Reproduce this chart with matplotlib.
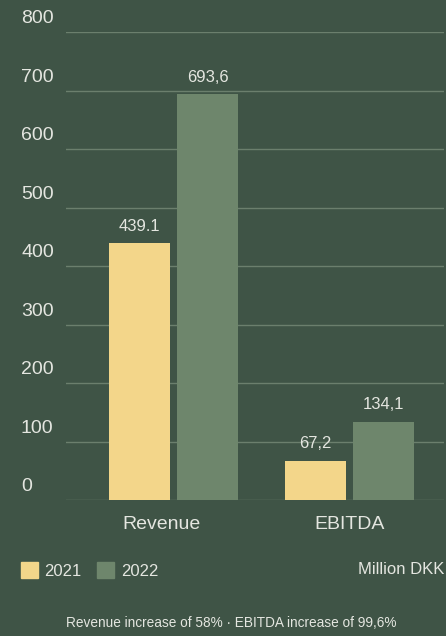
import matplotlib.pyplot as plt
import matplotlib.patches as mpatches
from matplotlib.transforms import blended_transform_factory, offset_copy

# === Data ===
categories = ["Revenue", "EBITDA"]
years = ["2021", "2022"]
values_2021 = [439.1, 67.2]
values_2022 = [693.6, 134.1]
labels_2021 = ["439.1", "67,2"]
labels_2022 = ["693,6", "134,1"]
y_ticks = [0, 100, 200, 300, 400, 500, 600, 700, 800]
unit_text = "Million DKK"
footer_text = "Revenue increase of 58% \u00b7 EBITDA increase of 99,6%"

# === Style ===
BG = "#3f5446"
YELLOW = "#f3d68a"
GREEN = "#6e866c"
GRID = "#6b7f6d"
TEXT = "#e4e6e0"
plt.rcParams["font.family"] = ["Liberation Sans", "DejaVu Sans"]

fig = plt.figure(figsize=(4.46, 6.36), dpi=100, facecolor=BG)
ax = fig.add_axes([66 / 446, 1 - 500 / 636, 378 / 446, 468 / 636])
ax.set_facecolor(BG)

bar_w = 0.347
offset = 0.193
x = list(range(len(categories)))
ax.bar([i - offset for i in x], values_2021, width=bar_w, color=YELLOW)
ax.bar([i + offset for i in x], values_2022, width=bar_w, color=GREEN)

ax.set_xlim(-0.611, 1.537)
ax.set_ylim(0, 800)

# gridlines
for t in y_ticks:
    ax.axhline(t, color=GRID, lw=1.0, zorder=0)

# value labels above bars
for i in x:
    ax.text(i - offset, values_2021[i] + 29, labels_2021[i], ha="center", va="center",
            color=TEXT, fontsize=12)
    ax.text(i + offset, values_2022[i] + 29, labels_2022[i], ha="center", va="center",
            color=TEXT, fontsize=12)

# y tick labels sitting above the gridlines
trans = blended_transform_factory(fig.transFigure, ax.transData)
trans = offset_copy(trans, fig=fig, x=0, y=3.5, units="points")
for t in y_ticks:
    ax.text(21 / 446, t, str(t), transform=trans, ha="left", va="bottom",
            color=TEXT, fontsize=14)

# category labels (Revenue sits a bit left of its bar pair)
cat_x = [-0.07, 0.0]
for i, c in enumerate(categories):
    ax.text(i + cat_x[i], -42, c, ha="center", va="center", color=TEXT, fontsize=14)

ax.set_xticks([])
ax.set_yticks([])
for s in ax.spines.values():
    s.set_visible(False)

# legend
fig.patches.append(mpatches.Rectangle((21 / 446, 1 - 578 / 636), 17 / 446, 16 / 636,
                                      transform=fig.transFigure, color=YELLOW))
fig.text(44 / 446, 1 - 571 / 636, years[0], ha="left", va="center", color=TEXT, fontsize=12)
fig.patches.append(mpatches.Rectangle((97 / 446, 1 - 578 / 636), 17 / 446, 16 / 636,
                                      transform=fig.transFigure, color=GREEN))
fig.text(121 / 446, 1 - 571 / 636, years[1], ha="left", va="center", color=TEXT, fontsize=12)

fig.text(444 / 446, 1 - 569 / 636, unit_text, ha="right", va="center", color=TEXT, fontsize=12)
fig.text(231 / 446, 1 - 623 / 636, footer_text, ha="center", va="center", color=TEXT, fontsize=9.8)

fig.savefig("out.png", dpi=100, facecolor=BG)
